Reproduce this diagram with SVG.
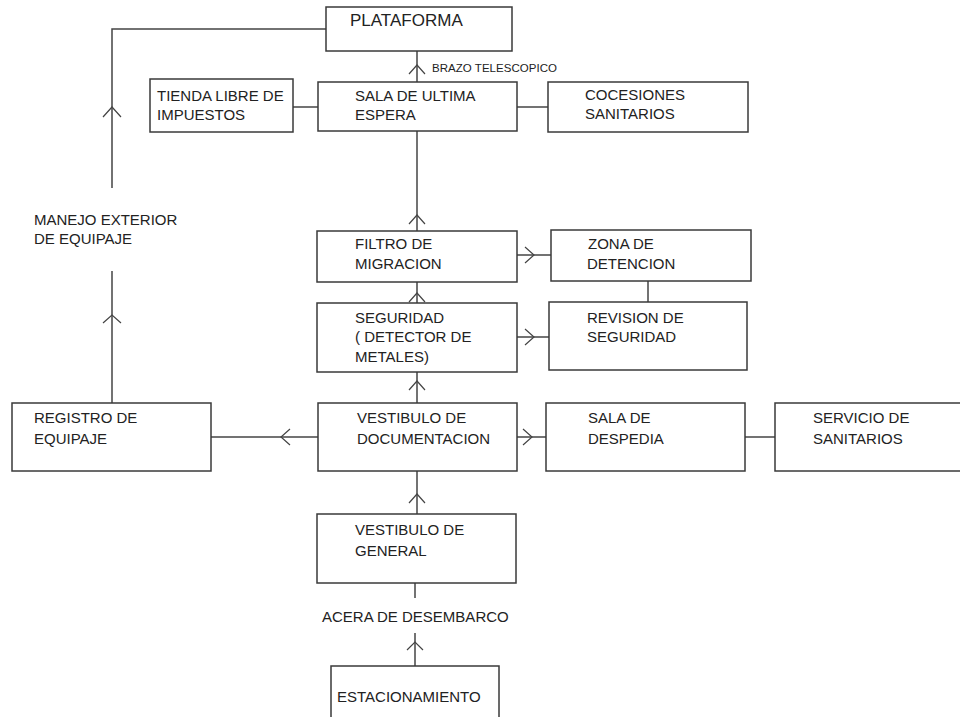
<svg xmlns="http://www.w3.org/2000/svg" width="960" height="717" viewBox="0 0 960 717">
<style>
.box{fill:#fff;stroke:#3a3a3a;stroke-width:1.5}
.ln{fill:none;stroke:#444;stroke-width:1.5}
.ah{fill:none;stroke:#444;stroke-width:1.2}
text{font-family:"Liberation Sans",Arial,sans-serif;font-size:15px;fill:#222}
.sm{font-size:11.5px}
.big{font-size:17px}
</style>
<rect width="960" height="717" fill="#fff"/>
<g id="connectors">
<polyline class="ln" points="326,29 112,29 112,188"/>
<line class="ln" x1="112" y1="271" x2="112" y2="403"/>
<polyline class="ah" points="103,117 112,107 121,117"/>
<polyline class="ah" points="103,323 112,315 121,323"/>
<line class="ln" x1="417" y1="51" x2="417" y2="82"/>
<polyline class="ah" points="409,74 417,65 425,74"/>
<line class="ln" x1="293" y1="107" x2="318" y2="107"/>
<line class="ln" x1="517" y1="107" x2="548" y2="107"/>
<line class="ln" x1="417" y1="131" x2="417" y2="231"/>
<polyline class="ah" points="409,224 417,215 425,224"/>
<line class="ln" x1="517" y1="255" x2="551" y2="255"/>
<polyline class="ah" points="525,247 534,255 525,263"/>
<line class="ln" x1="648" y1="281" x2="648" y2="302"/>
<line class="ln" x1="417" y1="282" x2="417" y2="303"/>
<polyline class="ah" points="409,302 417,293 425,302"/>
<line class="ln" x1="517" y1="337" x2="549" y2="337"/>
<polyline class="ah" points="525,329 534,337 525,345"/>
<line class="ln" x1="417" y1="372" x2="417" y2="403"/>
<polyline class="ah" points="409,390 417,381 425,390"/>
<line class="ln" x1="211" y1="437" x2="318" y2="437"/>
<polyline class="ah" points="290,429 281,437 290,445"/>
<line class="ln" x1="517" y1="437" x2="546" y2="437"/>
<polyline class="ah" points="523,429 532,437 523,445"/>
<line class="ln" x1="745" y1="437" x2="775" y2="437"/>
<line class="ln" x1="417" y1="471" x2="417" y2="514"/>
<polyline class="ah" points="409,503 417,494 425,503"/>
<line class="ln" x1="415" y1="583" x2="415" y2="598"/>
<line class="ln" x1="415" y1="633" x2="415" y2="666"/>
<polyline class="ah" points="407,650 415,642 423,650"/>
</g>
<g id="plataforma"><rect class="box" x="326" y="7" width="186" height="44"/><text class="big" x="350" y="26">PLATAFORMA</text></g>
<g id="brazo"><text class="sm" x="432" y="72" textLength="125">BRAZO TELESCOPICO</text></g>
<g id="tienda"><rect class="box" x="150" y="79" width="143" height="53"/><text x="157" y="101">TIENDA LIBRE DE</text><text x="157" y="120">IMPUESTOS</text></g>
<g id="sala-ultima"><rect class="box" x="318" y="82" width="199" height="49"/><text x="355" y="101">SALA DE ULTIMA</text><text x="355" y="120">ESPERA</text></g>
<g id="cocesiones"><rect class="box" x="548" y="82" width="200" height="50"/><text x="585" y="100">COCESIONES</text><text x="585" y="119">SANITARIOS</text></g>
<g id="manejo"><text x="34" y="225">MANEJO EXTERIOR</text><text x="34" y="244">DE EQUIPAJE</text></g>
<g id="filtro"><rect class="box" x="317" y="231" width="200" height="51"/><text x="355" y="249">FILTRO DE</text><text x="355" y="269">MIGRACION</text></g>
<g id="zona"><rect class="box" x="551" y="230" width="200" height="51"/><text x="588" y="249">ZONA DE</text><text x="587" y="269">DETENCION</text></g>
<g id="seguridad"><rect class="box" x="317" y="303" width="200" height="69"/><text x="355" y="323">SEGURIDAD</text><text x="355" y="342">( DETECTOR DE</text><text x="355" y="362">METALES)</text></g>
<g id="revision"><rect class="box" x="549" y="302" width="198" height="68"/><text x="587" y="323">REVISION DE</text><text x="587" y="342">SEGURIDAD</text></g>
<g id="registro"><rect class="box" x="12" y="403" width="199" height="68"/><text x="34" y="423">REGISTRO DE</text><text x="34" y="444">EQUIPAJE</text></g>
<g id="vestibulo-doc"><rect class="box" x="318" y="403" width="199" height="68"/><text x="357" y="423">VESTIBULO DE</text><text x="357" y="444">DOCUMENTACION</text></g>
<g id="despedia"><rect class="box" x="546" y="403" width="199" height="68"/><text x="588" y="423">SALA DE</text><text x="588" y="444">DESPEDIA</text></g>
<g id="servicio"><rect class="box" x="775" y="403" width="195" height="68"/><text x="813" y="423">SERVICIO DE</text><text x="813" y="444">SANITARIOS</text></g>
<g id="vestibulo-general"><rect class="box" x="317" y="514" width="199" height="69"/><text x="355" y="535">VESTIBULO DE</text><text x="355" y="556">GENERAL</text></g>
<g id="acera"><text x="322" y="622">ACERA DE DESEMBARCO</text></g>
<g id="estacionamiento"><rect class="box" x="331" y="666" width="168" height="60"/><text x="337" y="702">ESTACIONAMIENTO</text></g>
</svg>
